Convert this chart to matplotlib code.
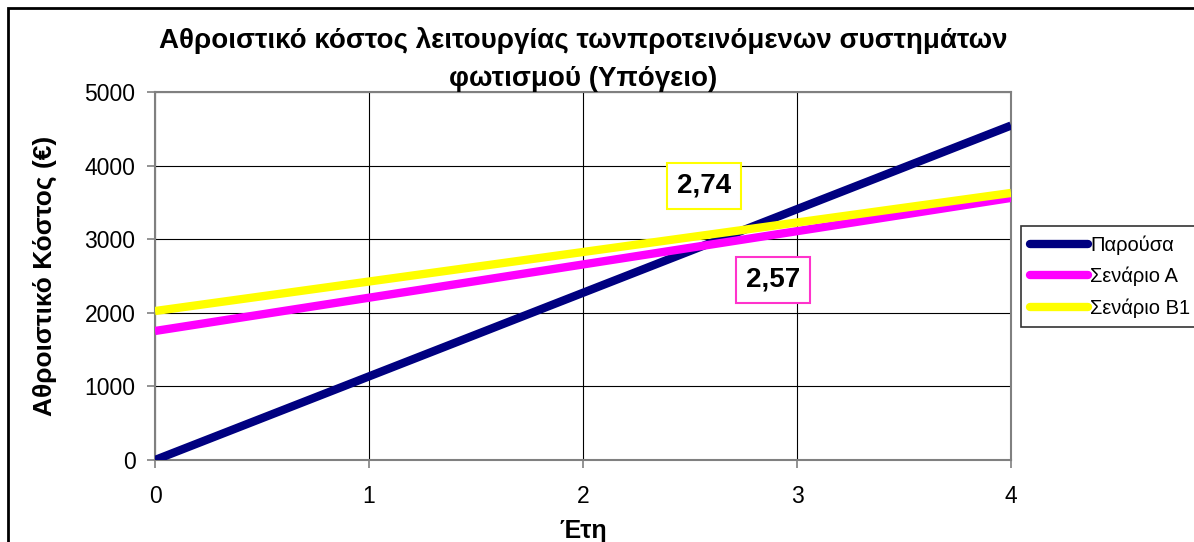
import matplotlib.pyplot as plt
from matplotlib.patches import Rectangle

plt.rcParams['font.family'] = ['Liberation Sans', 'DejaVu Sans']

years = [0, 1, 2, 3, 4]
cost_current = [0, 1136, 2272, 3408, 4544]
cost_scenario_a = [1753, 2205, 2657, 3109, 3561]
cost_scenario_b1 = [2024, 2425, 2826, 3227, 3628]
series_labels = ['Παρούσα', 'Σενάριο Α', 'Σενάριο Β1']
series_colors = ['#000080', '#ff00ff', '#ffff00']

payback_b1 = '2,74'
payback_a = '2,57'

fig = plt.figure(figsize=(11.94, 5.42), dpi=100)
ax = fig.add_axes([155 / 1194, 1 - 460 / 542, (1011 - 155) / 1194, (460 - 92) / 542])

for vals, lab, col in zip([cost_current, cost_scenario_a, cost_scenario_b1], series_labels, series_colors):
    ax.plot(years, vals, color=col, lw=6, label=lab, solid_capstyle='butt', zorder=3)

ax.set_xlim(0, 4)
ax.set_ylim(0, 5000)
ax.set_xticks(years)
ax.set_yticks(range(0, 5001, 1000))
ax.grid(True, color='black', lw=0.8)
ax.set_axisbelow(True)
for sp in ax.spines.values():
    sp.set_color('#808080')
    sp.set_linewidth(1.5)
ax.tick_params(axis='both', labelsize=16.5, color='#808080', length=6, width=1.2, direction='out')
ax.tick_params(axis='x', pad=12)
ax.tick_params(axis='y', pad=8)

ax.set_title('Αθροιστικό κόστος λειτουργίας τωνπροτεινόμενων συστημάτων\nφωτισμού (Υπόγειο)',
             fontsize=20, fontweight='bold', linespacing=1.6, pad=4)
ax.set_xlabel('Έτη', fontsize=18, fontweight='bold', labelpad=8)
ax.set_ylabel('Αθροιστικό Κόστος (€)', fontsize=19, fontweight='bold', labelpad=20)

# payback labels near the crossing points
ax.text(2.565, 3723, payback_b1, fontsize=20, fontweight='bold', ha='center', va='center',
        bbox=dict(boxstyle='square,pad=0.35', fc='white', ec='#ffff00', lw=1.5), zorder=5)
ax.text(2.888, 2446, payback_a, fontsize=20, fontweight='bold', ha='center', va='center',
        bbox=dict(boxstyle='square,pad=0.35', fc='white', ec='#ff33cc', lw=1.5), zorder=5)

leg = fig.legend(loc='upper left', bbox_to_anchor=(1021 / 1194, 1 - 226 / 542), borderaxespad=0,
                 fontsize=14.5, frameon=True, fancybox=False, edgecolor='black', handlelength=2.9,
                 handletextpad=0.1, borderpad=0.45, labelspacing=0.6)
leg.get_frame().set_linewidth(1.2)
for line in leg.get_lines():
    line.set_solid_capstyle('round')

# chart border
fig.patches.append(Rectangle((8 / 1194, -0.1), 1.2, 1 - 8 / 542 + 0.1, transform=fig.transFigure,
                             fill=False, ec='black', lw=2))

fig.savefig('out.png', dpi=100)
